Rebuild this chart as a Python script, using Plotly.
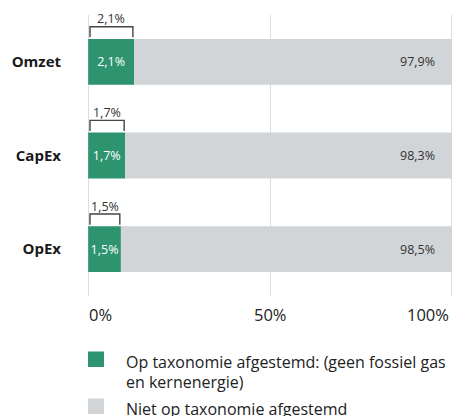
import plotly.graph_objects as go

# ---- data ----
CATEGORIES = ["Omzet", "CapEx", "OpEx"]
ALIGNED = [2.1, 1.7, 1.5]            # Op taxonomie afgestemd (%)
NOT_ALIGNED = [97.9, 98.3, 98.5]     # Niet op taxonomie afgestemd (%)
X_TICK_VALS = [0, 50, 100]
X_TICK_LABELS = ["0%", "50%", "100%"]
SERIES_NAMES = [
    "Op taxonomie afgestemd: (geen fossiel gas<br>en kernenergie)",
    "Niet op taxonomie afgestemd",
]

# ---- style ----
GREEN = "#2e9470"
GREY = "#d1d5d8"
TEXT = "#222222"
LABEL = "#333333"
GRID = "#dddddd"
FONT = "Open Sans"
# the reference visually exaggerates the small aligned segments
ALIGNED_DISPLAY_SCALE = 6

W, H = 455, 416
ML, MR, MT, MB = 86, 1, 15, 120
XR = [-0.6, 100.6]
PLOT_W = W - ML - MR
PLOT_H = H - MT - MB


def fmt(v):
    return f"{v:.1f}".replace(".", ",") + "%"


def py2paper(py):
    return (H - MB - py) / PLOT_H


def px2paper(px):
    return (px - ML) / PLOT_W


y_pos = list(range(len(CATEGORIES)))
green_disp = [v * ALIGNED_DISPLAY_SCALE for v in ALIGNED]
grey_disp = [100 - g for g in green_disp]
BAR_W = 0.49

fig = go.Figure()
fig.add_bar(
    y=y_pos, x=green_disp, orientation="h", width=BAR_W,
    marker=dict(color=GREEN, line_width=0),
    text=[fmt(v) for v in ALIGNED], textposition="inside", textangle=0,
    insidetextanchor="middle", constraintext="none",
    textfont=dict(family=FONT, size=12.5, color="white"),
    name=SERIES_NAMES[0], showlegend=False, hoverinfo="skip",
)
fig.add_bar(
    y=y_pos, x=grey_disp, base=green_disp, orientation="h", width=BAR_W,
    marker=dict(color=GREY, line_width=0),
    name=SERIES_NAMES[1], showlegend=False, hoverinfo="skip",
)

annotations = []
shapes = []

# value labels in grey segments
for i, v in enumerate(NOT_ALIGNED):
    annotations.append(dict(
        x=100, y=y_pos[i], xref="x", yref="y", text=fmt(v),
        xanchor="right", yanchor="middle", xshift=-15, showarrow=False,
        font=dict(family=FONT, size=12.5, color=LABEL),
    ))

# brackets above green segments
for i, v in enumerate(ALIGNED):
    x0 = 0.5
    x1 = green_disp[i] - 0.3
    yt = y_pos[i] - 0.375
    yb = y_pos[i] - 0.262
    shapes.append(dict(
        type="path", xref="x", yref="y",
        path=f"M {x0},{yb} L {x0},{yt} L {x1},{yt} L {x1},{yb}",
        line=dict(color="#444444", width=1.4),
    ))
    annotations.append(dict(
        x=green_disp[i] / 2, y=y_pos[i] - 0.46, xref="x", yref="y",
        text=fmt(v), xanchor="center", yanchor="middle", showarrow=False,
        font=dict(family=FONT, size=12.5, color=LABEL),
    ))

# x tick labels (outer labels aligned to the plot edges)
for k, (tv, tl) in enumerate(zip(X_TICK_VALS, X_TICK_LABELS)):
    if k == 0:
        anchor, shift = "left", -1
    elif k == len(X_TICK_VALS) - 1:
        anchor, shift = "right", -1
    else:
        anchor, shift = "center", 0
    annotations.append(dict(
        x=tv, y=py2paper(314), xref="x", yref="paper", text=tl,
        xanchor=anchor, yanchor="middle", xshift=shift, showarrow=False,
        font=dict(family=FONT, size=16.5, color=TEXT),
    ))

# manual legend
legend_items = [
    (GREEN, 351.5, 362.0),
    (GREY, 398.5, 409.0),
]
for (col, sq_top, txt_y), name in zip(legend_items, SERIES_NAMES):
    shapes.append(dict(
        type="rect", xref="paper", yref="paper",
        x0=px2paper(88), x1=px2paper(104),
        y0=py2paper(sq_top), y1=py2paper(sq_top + 15.5),
        fillcolor=col, line_width=0,
    ))
    for j, line in enumerate(name.split("<br>")):
        annotations.append(dict(
            x=px2paper(124), y=py2paper(txt_y + 20 * j), xref="paper",
            yref="paper", text=line, xanchor="left", yanchor="middle",
            showarrow=False, font=dict(family=FONT, size=16, color=TEXT),
        ))

fig.update_layout(
    width=W, height=H,
    margin=dict(l=ML, r=MR, t=MT, b=MB),
    paper_bgcolor="white", plot_bgcolor="white",
    barmode="overlay",
    showlegend=False,
    font=dict(family=FONT, color=TEXT),
    annotations=annotations,
    shapes=shapes,
    xaxis=dict(
        range=XR, tickvals=X_TICK_VALS, showticklabels=False,
        showgrid=True, gridcolor=GRID, gridwidth=1, zeroline=False,
        showline=False, ticks="", fixedrange=True,
    ),
    yaxis=dict(
        range=[len(CATEGORIES) - 0.5, -0.5], tickvals=y_pos,
        ticktext=CATEGORIES, showgrid=False, zeroline=False,
        showline=False, ticks="", ticklabelstandoff=24,
        tickfont=dict(family=FONT, size=15, color="#1a1a1a", weight="bold"),
        fixedrange=True,
    ),
)

fig.write_html(
    "out.html",
    config={"displayModeBar": False},
    post_script="document.body.style.margin='0';document.body.style.overflow='hidden';",
)
